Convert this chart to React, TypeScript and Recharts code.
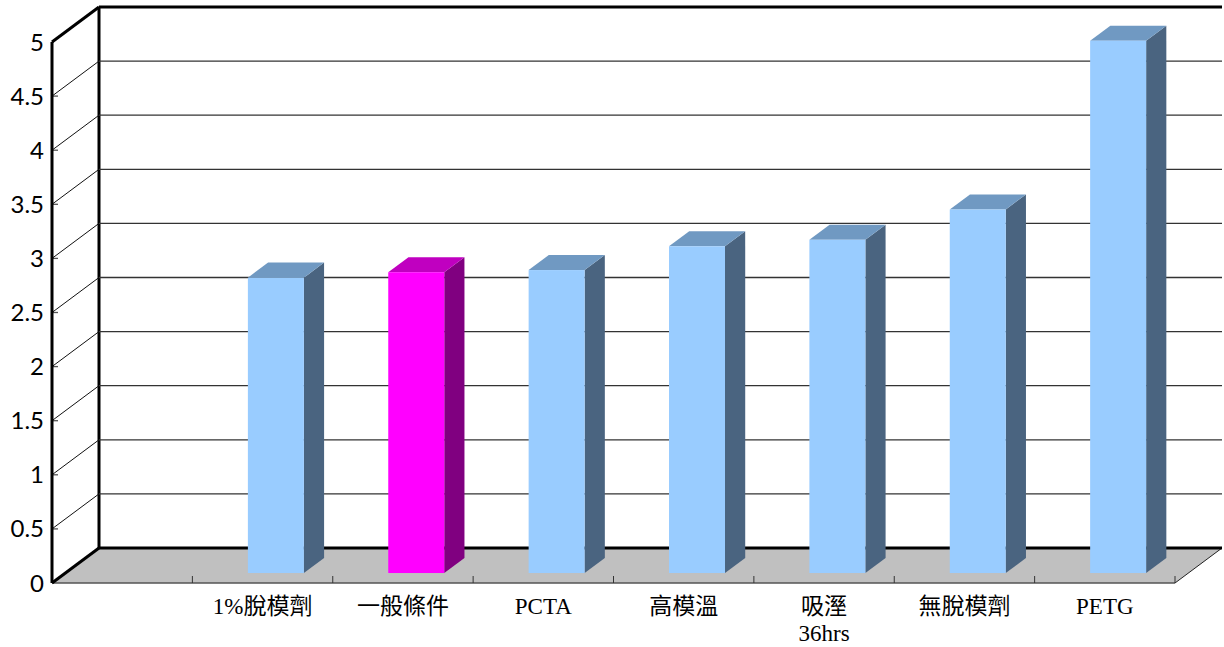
import { BarChart, Bar, XAxis, YAxis, CartesianGrid } from 'recharts'

// categories (first slot is empty in the original sheet)
const categories = ['', '1%脫模劑', '一般條件', 'PCTA', '高模溫', '吸溼\n36hrs', '無脫模劑', 'PETG']
const values: (number | null)[] = [null, 2.73, 2.78, 2.8, 3.02, 3.08, 3.36, 4.92]
const highlighted = ['一般條件']
const yTicks = [0, 0.5, 1, 1.5, 2, 2.5, 3, 3.5, 4, 4.5, 5]

const data = categories.map((name, i) => ({ name, value: values[i] }))

// oblique projection of the full floor depth
const DX = 47
const DY = -35
// bars sit in the middle of the depth
const BAR_FRONT = 0.285
const BAR_DEPTH = 0.43

const BLUE = { front: '#99ccff', top: '#7099c2', side: '#4a6480' }
const PINK = { front: '#ff00ff', top: '#c000c0', side: '#800080' }

function Box3D(props: any) {
  const { x, y, width, height, payload } = props
  if (height == null || isNaN(height)) return null
  const c = highlighted.includes(payload.name) ? PINK : BLUE
  const fx = x + DX * BAR_FRONT
  const fy = y + DY * BAR_FRONT
  const bx = DX * BAR_DEPTH
  const by = DY * BAR_DEPTH
  return (
    <g>
      <polygon
        points={`${fx + width},${fy} ${fx + width + bx},${fy + by} ${fx + width + bx},${fy + height + by} ${fx + width},${fy + height}`}
        fill={c.side}
      />
      <polygon
        points={`${fx},${fy} ${fx + bx},${fy + by} ${fx + width + bx},${fy + by} ${fx + width},${fy}`}
        fill={c.top}
      />
      <rect x={fx} y={fy} width={width} height={height} fill={c.front} />
    </g>
  )
}

// back wall grid lines, left wall diagonals, floor and frame
function WallLine(props: any) {
  const { x1, y1, x2, y, height, index } = props
  const isBottom = y != null && height != null ? Math.abs(y1 - (y + height)) < 0.5 : index === 0
  const isTop = y != null ? Math.abs(y1 - y) < 0.5 : index === yTicks.length - 1
  if (isBottom) {
    return (
      <g>
        <polygon
          points={`${x1},${y1} ${x1 + DX},${y1 + DY} ${x2 + DX},${y1 + DY} ${x2},${y1}`}
          fill="#c0c0c0"
        />
        <line x1={x1} y1={y1} x2={x2} y2={y1} stroke="#555" strokeWidth={1.5} />
        <line x1={x2} y1={y1} x2={x2 + DX} y2={y1 + DY} stroke="#222" strokeWidth={1} />
        <line x1={x1 + DX} y1={y1 + DY} x2={x2 + DX} y2={y1 + DY} stroke="#000" strokeWidth={3} />
        <line x1={x1} y1={y1} x2={x1 + DX} y2={y1 + DY} stroke="#000" strokeWidth={3} />
        {y != null && (
          <line x1={x1 + DX} y1={y + DY} x2={x1 + DX} y2={y + height + DY} stroke="#000" strokeWidth={3} />
        )}
      </g>
    )
  }
  if (isTop) {
    return (
      <g>
        <line x1={x1 + DX} y1={y1 + DY} x2={x2 + DX} y2={y1 + DY} stroke="#000" strokeWidth={3} />
        <line x1={x1} y1={y1} x2={x1 + DX} y2={y1 + DY} stroke="#000" strokeWidth={3} />
      </g>
    )
  }
  return (
    <g>
      <line x1={x1 + DX} y1={y1 + DY} x2={x2 + DX} y2={y1 + DY} stroke="#333" strokeWidth={1.3} />
      <line x1={x1} y1={y1} x2={x1 + DX} y2={y1 + DY} stroke="#111" strokeWidth={1} />
      <line x1={x1} y1={y1} x2={x1 + 6} y2={y1} stroke="#555" strokeWidth={1.3} />
    </g>
  )
}

function CategoryTick(props: any) {
  const { x, y, payload, index } = props
  const half = payload?.offset ?? 0
  const lines = String(payload.value).split('\n')
  const last = index === categories.length - 1
  return (
    <g>
      {index > 0 && half > 0 && (
        <line x1={x - half} y1={y} x2={x - half} y2={y - 7} stroke="#333" strokeWidth={1} />
      )}
      {last && half > 0 && (
        <line x1={x + half} y1={y} x2={x + half} y2={y - 7} stroke="#333" strokeWidth={1} />
      )}
      <text
        x={x}
        y={y + 31}
        textAnchor="middle"
        fontSize={23}
        fontFamily="'Liberation Serif', 'Noto Sans CJK TC', serif"
        fill="#000"
      >
        {lines.map((l, i) => (
          <tspan key={i} x={x} dy={i === 0 ? 0 : 27}>
            {l}
          </tspan>
        ))}
      </text>
    </g>
  )
}

export default function App() {
  return (
    <div style={{ position: 'absolute', left: 0, top: 0, width: 1224, height: 647, background: '#fff' }}>
      <BarChart
        width={1224}
        height={647}
        data={data}
        margin={{ top: 42, right: 49, left: 0, bottom: 0 }}
        barCategoryGap="30%"
      >
        <CartesianGrid vertical={false} horizontal={(p: any) => <WallLine key={p.key} {...p} />} />
        <XAxis
          dataKey="name"
          interval={0}
          height={64}
          axisLine={false}
          tickLine={false}
          tickSize={0}
          tickMargin={0}
          tick={<CategoryTick />}
        />
        <YAxis
          domain={[0, 5]}
          ticks={yTicks}
          width={52}
          tickLine={false}
          axisLine={{ stroke: '#000', strokeWidth: 3 }}
          tick={{ fill: '#000', fontSize: 24, fontFamily: 'Lato, sans-serif' }}
        />
        <Bar dataKey="value" shape={<Box3D />} isAnimationActive={false} />
      </BarChart>
    </div>
  )
}
